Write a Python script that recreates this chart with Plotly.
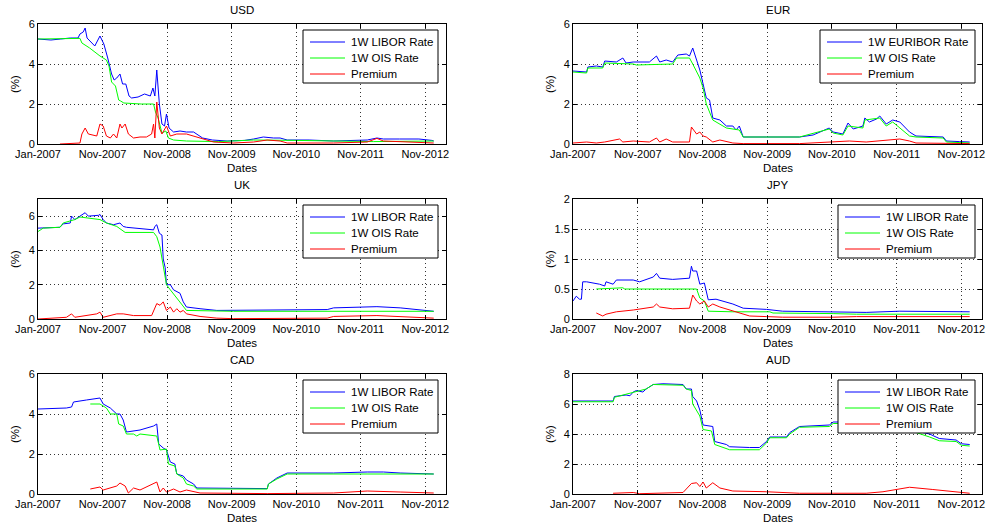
import plotly.graph_objects as go

# ---------------- data (x in tick-interval units: 0 = Jan-2007, 1 = Nov-2007, ... 6 = Nov-2012) -------------
X_TICK_LABELS = ["Jan-2007", "Nov-2007", "Nov-2008", "Nov-2009", "Nov-2010", "Nov-2011", "Nov-2012"]
SERIES_NAMES = ["1W LIBOR Rate", "1W OIS Rate", "Premium"]

# USD
USD_LIBOR_T = [0, 0.20, 0.35, 0.50, 0.62, 0.65, 0.70, 0.73, 0.76, 0.82, 0.88, 0.96, 1.02, 1.08, 1.14, 1.18, 1.22, 1.27,
               1.31, 1.36, 1.41, 1.45, 1.55, 1.65, 1.74, 1.78, 1.81, 1.84, 1.88, 1.92, 1.96, 1.99, 2.03, 2.10, 2.20,
               2.30, 2.41, 2.55, 2.70, 2.93, 3.20, 3.34, 3.49, 3.65, 3.75, 3.86, 4.20, 4.58, 4.90, 5.10, 5.25, 5.35,
               5.60, 5.90, 6.10, 6.13]
USD_LIBOR = [5.25, 5.20, 5.25, 5.30, 5.30, 5.50, 5.60, 5.80, 5.30, 5.10, 4.90, 5.40, 5.00, 4.30, 3.50, 3.20, 3.30, 3.50,
             3.00, 3.00, 2.40, 2.30, 2.35, 2.50, 2.40, 2.80, 2.40, 3.70, 2.00, 1.00, 0.90, 1.50, 0.80, 0.60, 0.65,
             0.60, 0.60, 0.30, 0.20, 0.15, 0.18, 0.25, 0.35, 0.30, 0.30, 0.20, 0.20, 0.15, 0.18, 0.20, 0.30, 0.25,
             0.25, 0.25, 0.18, 0.15]
USD_OIS_T = [0, 0.50, 0.65, 0.68, 0.80, 0.96, 1.06, 1.10, 1.14, 1.20, 1.25, 1.28, 1.33, 1.60, 1.79, 1.82, 1.86, 1.92,
             1.98, 2.02, 2.10, 2.30, 2.80, 3.34, 3.60, 4.00, 4.60, 5.20, 6.13]
USD_OIS = [5.25, 5.25, 5.28, 5.05, 4.80, 4.40, 4.20, 3.90, 3.10, 2.90, 2.20, 2.15, 2.05, 2.00, 2.00, 1.60, 1.30, 0.55,
           0.65, 0.30, 0.20, 0.15, 0.12, 0.20, 0.20, 0.18, 0.15, 0.12, 0.15]
USD_PREM_T = [0.34, 0.65, 0.68, 0.73, 0.78, 0.91, 0.96, 1.01, 1.06, 1.12, 1.17, 1.22, 1.27, 1.30, 1.35, 1.40, 1.48, 1.58,
              1.68, 1.76, 1.79, 1.81, 1.84, 1.88, 1.92, 1.99, 2.05, 2.15, 2.30, 2.41, 2.51, 2.72, 3.03, 3.34, 3.55,
              3.75, 3.86, 4.58, 5.10, 5.25, 5.35, 6.13]
USD_PREM = [0.00, 0.05, 0.50, 0.80, 0.50, 0.40, 1.00, 0.90, 0.40, 0.30, 0.50, 0.30, 1.00, 0.80, 1.00, 0.50, 0.30, 0.35,
            0.35, 0.50, 1.00, 0.30, 2.10, 0.80, 0.50, 0.90, 0.40, 0.50, 0.50, 0.40, 0.30, 0.10, 0.05, 0.10, 0.20,
            0.15, 0.05, 0.05, 0.10, 0.28, 0.15, 0.05]

# EUR
EUR_LIBOR_T = [0, 0.21, 0.23, 0.36, 0.46, 0.49, 0.67, 0.72, 0.77, 0.82, 0.93, 1.18, 1.29, 1.34, 1.44, 1.54, 1.62, 1.75,
               1.80, 1.85, 1.91, 1.96, 2.01, 2.06, 2.11, 2.16, 2.27, 2.37, 2.47, 2.52, 2.57, 2.63, 2.99, 3.50, 3.71,
               3.96, 4.02, 4.17, 4.25, 4.33, 4.48, 4.51, 4.58, 4.69, 4.74, 4.84, 4.94, 5.05, 5.20, 5.30, 5.72, 5.77,
               5.97, 6.13]
EUR_LIBOR = [3.65, 3.60, 3.85, 3.90, 3.85, 4.15, 4.10, 4.20, 4.30, 4.05, 4.10, 4.10, 4.40, 4.10, 4.20, 4.10, 4.45, 4.50,
             4.40, 4.80, 4.20, 3.70, 3.00, 2.30, 2.20, 1.30, 1.20, 0.90, 0.90, 0.70, 0.90, 0.35, 0.35, 0.35, 0.45,
             0.80, 0.60, 0.50, 1.05, 0.75, 0.90, 1.30, 1.10, 1.25, 1.40, 1.00, 1.20, 1.10, 0.60, 0.40, 0.35, 0.15,
             0.12, 0.10]
EUR_OIS_T = [0, 0.21, 0.23, 0.46, 0.49, 0.93, 0.98, 1.54, 1.60, 1.80, 1.85, 1.96, 2.01, 2.06, 2.16, 2.37, 2.57, 2.63,
             3.50, 3.96, 4.02, 4.17, 4.25, 4.48, 4.51, 4.74, 4.84, 4.94, 5.20, 5.30, 5.72, 5.77, 6.13]
EUR_OIS = [3.60, 3.55, 3.80, 3.80, 4.05, 4.00, 3.95, 4.00, 4.30, 4.30, 4.00, 3.30, 2.80, 2.00, 1.20, 0.80, 0.70, 0.35,
           0.35, 0.75, 0.55, 0.45, 0.90, 0.80, 1.20, 1.30, 0.90, 1.10, 0.40, 0.35, 0.30, 0.10, 0.05]
EUR_PREM_T = [0, 0.21, 0.36, 0.49, 0.72, 0.77, 0.93, 1.18, 1.29, 1.34, 1.44, 1.54, 1.80, 1.83, 1.91, 1.96, 2.01, 2.06,
              2.16, 2.27, 2.47, 2.63, 3.50, 3.96, 4.27, 4.53, 5.05, 5.20, 5.30, 6.13]
EUR_PREM = [0.05, 0.10, 0.05, 0.10, 0.25, 0.10, 0.15, 0.10, 0.30, 0.10, 0.25, 0.10, 0.10, 0.85, 0.50, 0.60, 0.40, 0.35,
            0.10, 0.20, 0.05, 0.02, 0.02, 0.10, 0.15, 0.10, 0.25, 0.15, 0.05, 0.02]

# UK
UK_LIBOR_T = [0, 0.34, 0.39, 0.50, 0.52, 0.57, 0.65, 0.73, 0.78, 0.94, 0.96, 1.01, 1.06, 1.17, 1.27, 1.32, 1.37, 1.48,
              1.79, 1.81, 1.84, 1.88, 1.92, 1.94, 1.97, 1.99, 2.05, 2.10, 2.20, 2.25, 2.30, 2.51, 2.77, 4.48, 4.58,
              5.25, 5.61, 6.13]
UK_LIBOR = [5.30, 5.35, 5.55, 5.60, 6.00, 5.80, 6.00, 6.20, 6.00, 6.05, 6.10, 5.80, 5.60, 5.50, 5.60, 5.40, 5.35, 5.30,
            5.20, 5.40, 5.50, 5.00, 4.90, 3.50, 3.00, 2.00, 2.00, 1.70, 1.50, 1.00, 0.70, 0.60, 0.50, 0.55, 0.65,
            0.72, 0.65, 0.45]
UK_OIS_T = [0, 0.08, 0.34, 0.39, 0.57, 0.65, 0.96, 1.06, 1.22, 1.35, 1.79, 1.84, 1.89, 1.94, 1.99, 2.05, 2.15, 2.23,
            2.30, 3.03, 6.13]
UK_OIS = [5.10, 5.30, 5.35, 5.60, 5.80, 5.95, 5.80, 5.60, 5.40, 5.05, 5.05, 4.80, 4.20, 3.00, 2.00, 1.70, 1.20, 0.80,
          0.50, 0.45, 0.45]
UK_PREM_T = [0, 0.44, 0.52, 0.57, 0.91, 0.96, 1.01, 1.22, 1.32, 1.48, 1.76, 1.81, 1.84, 1.89, 1.94, 1.99, 2.05, 2.10,
             2.15, 2.20, 2.25, 2.30, 2.51, 2.77, 3.03, 4.48, 4.58, 5.25, 6.13]
UK_PREM = [0.00, 0.10, 0.30, 0.10, 0.30, 0.40, 0.10, 0.30, 0.30, 0.20, 0.20, 0.60, 0.90, 0.80, 1.00, 0.50, 0.70, 0.40,
           0.60, 0.40, 0.50, 0.30, 0.15, 0.05, 0.02, 0.05, 0.15, 0.20, 0.05]

# JPY
JPY_LIBOR_T = [0, 0.05, 0.10, 0.13, 0.15, 0.21, 0.41, 0.49, 0.51, 0.62, 0.67, 0.93, 1.03, 1.24, 1.29, 1.34, 1.54, 1.80,
               1.83, 1.85, 1.91, 1.96, 2.03, 2.09, 2.21, 2.47, 2.63, 2.99, 3.24, 4.02, 4.53, 5.05, 5.56, 6.13]
JPY_LIBOR = [0.30, 0.38, 0.33, 0.33, 0.62, 0.62, 0.58, 0.55, 0.62, 0.58, 0.65, 0.65, 0.62, 0.70, 0.76, 0.68, 0.66, 0.68,
             0.88, 0.80, 0.80, 0.58, 0.60, 0.32, 0.33, 0.25, 0.18, 0.16, 0.13, 0.12, 0.11, 0.13, 0.12, 0.12]
JPY_OIS_T = [0.36, 0.77, 0.80, 0.93, 1.91, 1.96, 2.03, 2.09, 2.47, 3.04, 3.09, 4.02, 4.38, 6.13]
JPY_OIS = [0.50, 0.52, 0.50, 0.50, 0.50, 0.35, 0.30, 0.13, 0.12, 0.12, 0.10, 0.09, 0.08, 0.08]
JPY_PREM_T = [0.36, 0.46, 0.51, 0.67, 0.93, 1.24, 1.29, 1.34, 1.54, 1.80, 1.85, 1.91, 1.96, 2.03, 2.09, 2.16, 2.27,
              2.47, 2.73, 2.99, 3.24, 4.02, 4.38, 6.13]
JPY_PREM = [0.10, 0.05, 0.08, 0.12, 0.15, 0.20, 0.25, 0.20, 0.17, 0.18, 0.40, 0.30, 0.25, 0.30, 0.20, 0.25, 0.20, 0.13,
            0.05, 0.04, 0.03, 0.03, 0.04, 0.04]

# CAD
CAD_LIBOR_T = [0, 0.44, 0.52, 0.55, 0.75, 0.96, 1.01, 1.12, 1.22, 1.27, 1.32, 1.37, 1.58, 1.68, 1.79, 1.84, 1.87, 1.94,
               1.99, 2.05, 2.12, 2.15, 2.25, 2.30, 2.41, 2.46, 3.03, 3.55, 3.57, 3.70, 3.86, 4.58, 5.10, 5.35, 5.61,
               6.13]
CAD_LIBOR = [4.25, 4.30, 4.35, 4.60, 4.70, 4.80, 4.50, 4.30, 4.00, 4.00, 3.70, 3.10, 3.20, 3.30, 3.40, 3.50, 2.50, 2.30,
             2.20, 1.60, 1.50, 1.00, 0.90, 0.70, 0.50, 0.30, 0.27, 0.27, 0.50, 0.80, 1.05, 1.05, 1.10, 1.10, 1.05,
             1.00]
CAD_OIS_T = [0.81, 0.96, 1.06, 1.12, 1.22, 1.25, 1.32, 1.37, 1.48, 1.53, 1.58, 1.84, 1.89, 1.99, 2.02, 2.12, 2.15, 2.25,
             2.30, 2.41, 2.46, 3.55, 3.57, 3.70, 3.86, 6.13]
CAD_OIS = [4.50, 4.50, 4.30, 4.00, 4.00, 3.50, 3.40, 3.00, 3.00, 2.90, 3.00, 2.90, 2.20, 2.25, 1.50, 1.40, 1.00, 0.80,
           0.50, 0.40, 0.25, 0.25, 0.50, 0.75, 1.00, 1.00]
CAD_PREM_T = [0.81, 0.96, 1.01, 1.12, 1.22, 1.27, 1.35, 1.40, 1.48, 1.58, 1.68, 1.84, 1.89, 1.94, 1.99, 2.10, 2.20,
              2.30, 2.51, 3.55, 4.58, 5.10, 5.61, 6.13]
CAD_PREM = [0.25, 0.35, 0.20, 0.30, 0.40, 0.55, 0.40, 0.05, 0.30, 0.20, 0.35, 0.60, 0.10, 0.30, 0.10, 0.25, 0.10, 0.20,
            0.05, 0.02, 0.05, 0.15, 0.10, 0.05]

# AUD
AUD_LIBOR_T = [0, 0.62, 0.64, 0.82, 0.88, 0.93, 0.98, 1.08, 1.13, 1.24, 1.39, 1.70, 1.75, 1.83, 1.85, 1.91, 1.96, 2.01,
               2.16, 2.19, 2.37, 2.42, 2.73, 2.88, 2.99, 3.04, 3.30, 3.35, 3.50, 3.96, 4.02, 4.30, 4.80, 5.00, 5.30,
               5.51, 5.66, 5.92, 6.00, 6.13]
AUD_LIBOR = [6.20, 6.20, 6.50, 6.60, 6.55, 6.80, 6.90, 6.80, 7.00, 7.30, 7.35, 7.30, 7.00, 7.00, 6.50, 6.20, 5.60, 4.60,
             4.50, 3.50, 3.30, 3.15, 3.10, 3.10, 3.50, 3.80, 3.80, 4.10, 4.50, 4.60, 4.80, 4.80, 4.90, 4.50, 4.20,
             4.00, 3.70, 3.60, 3.35, 3.30]
AUD_OIS_T = [0, 0.62, 0.64, 0.93, 1.13, 1.24, 1.70, 1.75, 1.83, 1.85, 1.96, 2.01, 2.14, 2.19, 2.37, 2.42, 2.88, 2.99,
             3.04, 3.30, 3.35, 3.50, 3.96, 4.02, 4.30, 4.80, 5.00, 5.30, 5.51, 5.66, 5.92, 6.00, 6.13]
AUD_OIS = [6.15, 6.15, 6.45, 6.75, 7.00, 7.30, 7.25, 7.00, 6.90, 6.00, 5.20, 4.30, 4.20, 3.30, 3.00, 2.95, 2.95, 3.40,
           3.75, 3.75, 4.00, 4.45, 4.50, 4.70, 4.70, 4.75, 4.40, 4.10, 3.80, 3.55, 3.50, 3.25, 3.20]
AUD_PREM_T = [0.62, 0.93, 1.03, 1.24, 1.44, 1.70, 1.83, 1.91, 1.96, 2.01, 2.06, 2.16, 2.27, 2.37, 2.47, 2.99, 3.50,
              4.02, 4.53, 4.79, 5.05, 5.20, 5.56, 5.82, 6.08, 6.13]
AUD_PREM = [0.05, 0.10, 0.02, 0.05, 0.10, 0.10, 0.70, 0.75, 0.50, 0.80, 0.40, 0.75, 0.40, 0.30, 0.20, 0.15, 0.05, 0.05,
            0.05, 0.15, 0.35, 0.45, 0.30, 0.20, 0.10, 0.05]

PANELS = [
    ("USD", 0, 0, [0, 6], [0, 2, 4, 6], ["1W LIBOR Rate", "1W OIS Rate", "Premium"],
     [(USD_LIBOR_T, USD_LIBOR), (USD_OIS_T, USD_OIS), (USD_PREM_T, USD_PREM)]),
    ("EUR", 0, 1, [0, 6], [0, 2, 4, 6], ["1W EURIBOR Rate", "1W OIS Rate", "Premium"],
     [(EUR_LIBOR_T, EUR_LIBOR), (EUR_OIS_T, EUR_OIS), (EUR_PREM_T, EUR_PREM)]),
    ("UK", 1, 0, [0, 7], [0, 2, 4, 6], SERIES_NAMES,
     [(UK_LIBOR_T, UK_LIBOR), (UK_OIS_T, UK_OIS), (UK_PREM_T, UK_PREM)]),
    ("JPY", 1, 1, [0, 2], [0, 0.5, 1, 1.5, 2], SERIES_NAMES,
     [(JPY_LIBOR_T, JPY_LIBOR), (JPY_OIS_T, JPY_OIS), (JPY_PREM_T, JPY_PREM)]),
    ("CAD", 2, 0, [0, 6], [0, 2, 4, 6], SERIES_NAMES,
     [(CAD_LIBOR_T, CAD_LIBOR), (CAD_OIS_T, CAD_OIS), (CAD_PREM_T, CAD_PREM)]),
    ("AUD", 2, 1, [0, 8], [0, 2, 4, 6, 8], SERIES_NAMES,
     [(AUD_LIBOR_T, AUD_LIBOR), (AUD_OIS_T, AUD_OIS), (AUD_PREM_T, AUD_PREM)]),
]

# ---------------- layout ----------------
W, H = 987, 526
FONT = "Liberation Sans, Arial, Helvetica, sans-serif"
COLORS = ["#0000FF", "#00FF00", "#FF0000"]
COL_X = [(38, 446), (573, 982)]              # pixel left/right of plot areas
ROW_Y = [(24, 144), (199, 319), (374, 494)]  # pixel top/bottom of plot areas
X_RANGE = [0, 6.32]
LEGEND_W = {"USD": 135, "EUR": 155}          # legend box widths (px), default 137 on right, 135 on left


def px_x(p):
    return p / W


def px_y(p):
    return 1 - p / H


fig = go.Figure()
layout = dict(
    template="none",
    width=W, height=H, margin=dict(l=0, r=0, t=0, b=0, pad=0), autosize=False,
    paper_bgcolor="white", plot_bgcolor="white",
    font=dict(family=FONT, size=11, color="black"),
    showlegend=False, annotations=[], shapes=[],
)

for i, (title, r, c, yr, ytv, names, data) in enumerate(PANELS):
    k = i + 1
    xa = "x" if k == 1 else f"x{k}"
    ya = "y" if k == 1 else f"y{k}"
    for (tx, vy), name, col in zip(data, names, COLORS):
        fig.add_trace(go.Scatter(x=tx, y=vy, mode="lines", name=name, xaxis=xa, yaxis=ya,
                                 line=dict(color=col, width=1), showlegend=False))
    x0, x1 = COL_X[c]
    y0, y1 = ROW_Y[r]
    common = dict(showline=True, linecolor="black", linewidth=1, mirror="ticks", ticks="inside", ticklen=4,
                  tickcolor="black", showgrid=True, gridcolor="#333333", gridwidth=1, griddash="1px,3px",
                  zeroline=False, automargin=False, tickfont=dict(family=FONT, size=11, color="black"))
    layout["xaxis" if k == 1 else f"xaxis{k}"] = dict(
        domain=[px_x(x0), px_x(x1)], range=X_RANGE, anchor=ya,
        tickmode="array", tickvals=list(range(len(X_TICK_LABELS))), ticktext=X_TICK_LABELS, **common)
    layout["yaxis" if k == 1 else f"yaxis{k}"] = dict(
        domain=[px_y(y1), px_y(y0)], range=yr, anchor=xa,
        tickmode="array", tickvals=ytv, ticktext=[f"{v:g}" for v in ytv], **common)

    # legend box (drawn per panel, MATLAB style)
    lw = LEGEND_W.get(title, 135 if c == 0 else 137)
    lx1 = x1 - 8 if c == 0 else x1 - 7
    lx0 = lx1 - lw
    ly0, ly1 = y0 + 6, y0 + 59
    layout["shapes"].append(dict(type="rect", xref="paper", yref="paper",
                                 x0=px_x(lx0), x1=px_x(lx1), y0=px_y(ly1), y1=px_y(ly0),
                                 fillcolor="white", line=dict(color="black", width=1), layer="above"))
    for j, (name, col) in enumerate(zip(names, COLORS)):
        yy = ly0 + 12 + 16 * j
        layout["shapes"].append(dict(type="line", xref="paper", yref="paper",
                                     x0=px_x(lx0 + 7), x1=px_x(lx0 + 42), y0=px_y(yy), y1=px_y(yy),
                                     line=dict(color=col, width=1), layer="above"))
        layout["annotations"].append(dict(text=name, x=px_x(lx0 + 46), y=px_y(yy), xref="paper", yref="paper",
                                          showarrow=False, xanchor="left", yanchor="middle",
                                          font=dict(family=FONT, size=11.5, color="black")))

    cx = (x0 + x1) / 2
    layout["annotations"] += [
        dict(text=title, x=px_x(cx), y=px_y(y0 - 14), xref="paper", yref="paper", showarrow=False,
             xanchor="center", yanchor="middle", font=dict(family=FONT, size=11.5, color="black")),
        dict(text="Dates", x=px_x(cx), y=px_y(y1 + 24), xref="paper", yref="paper", showarrow=False,
             xanchor="center", yanchor="middle", font=dict(family=FONT, size=11.5, color="black")),
        dict(text="(%)", x=px_x(x0 - 23), y=px_y((y0 + y1) / 2), xref="paper", yref="paper", showarrow=False,
             xanchor="center", yanchor="middle", textangle=-90, font=dict(family=FONT, size=11.5, color="black")),
    ]

fig.update_layout(**layout)
fig.write_html("out.html")
